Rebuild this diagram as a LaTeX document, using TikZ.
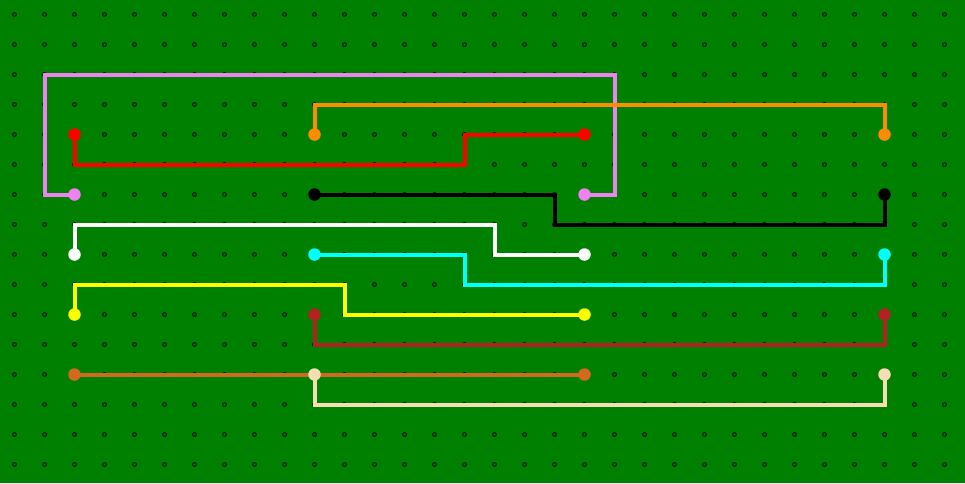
\documentclass[tikz,border=0pt]{standalone}
\usetikzlibrary{calc}
\definecolor{bg}{HTML}{008000}
\definecolor{wviolet}{HTML}{EE82EE}
\definecolor{worange}{HTML}{FF8C00}
\definecolor{wred}{HTML}{FF0000}
\definecolor{wcyan}{HTML}{00FFFF}
\definecolor{wyellow}{HTML}{FFFF00}
\definecolor{wbrown}{HTML}{B22222}
\definecolor{wchoc}{HTML}{D2691E}
\definecolor{wwheat}{HTML}{F5DEB3}
\definecolor{wwhite}{HTML}{FFFFFF}
\definecolor{wblack}{HTML}{000000}
\begin{document}
\begin{tikzpicture}[x=1pt,y=-1pt,
  wire/.style={line width=4pt},
  pin/.style={circle,inner sep=0pt,minimum size=12.5pt},
  griddot/.style={circle,inner sep=0pt,minimum size=4pt,draw=black!85!green,line width=1pt,fill=green!40!black}]
\useasboundingbox (0,0) rectangle (965,483);
\fill[bg] (0,0) rectangle (965,483);
% grid dots
\foreach \i in {0,...,31}{
  \foreach \j in {0,...,15}{
    \node[griddot] at ({14.5+30*\i},{14.5+30*\j}) {};
  }
}
% pin coordinates
\foreach \n/\i/\j in {
  va/2/6, vb/19/6,
  oa/10/4, ob/29/4,
  ra/2/4, rb/19/4,
  ka/10/6, kb/29/6,
  wa/2/8, wb/19/8,
  ca/10/8, cb/29/8,
  ya/2/10, yb/19/10,
  ba/10/10, bb/29/10,
  ha/2/12, hb/19/12,
  ta/10/12, tb/29/12}{
  \coordinate (\n) at ({14.5+30*\i},{14.5+30*\j});
}
\newcommand{\gx}[1]{{14.5+30*#1}}
% wires
\draw[wire,wviolet] (va) -- ++(-30,0) |- (\gx{20},\gx{2}) |- (vb);
\draw[wire,worange] (oa) |- (\gx{29},\gx{3}) -- (ob);
\draw[wire,wred] (ra) |- (\gx{15},\gx{5}) |- (rb);
\draw[wire,wblack] (ka) -| (\gx{18},\gx{7}) -| (kb);
\draw[wire,wwhite] (wa) |- (\gx{16},\gx{7}) |- (wb);
\draw[wire,wcyan] (ca) -| (\gx{15},\gx{9}) -| (cb);
\draw[wire,wyellow] (ya) |- (\gx{11},\gx{9}) |- (yb);
\draw[wire,wbrown] (ba) |- (\gx{29},\gx{11}) -- (bb);
\draw[wire,wchoc] (ha) -- (hb);
\draw[wire,wwheat] (ta) |- (\gx{29},\gx{13}) -- (tb);
% pins
\foreach \n/\c in {va/wviolet,vb/wviolet,oa/worange,ob/worange,ra/wred,rb/wred,
  ka/wblack,kb/wblack,wa/wwhite,wb/wwhite,ca/wcyan,cb/wcyan,ya/wyellow,yb/wyellow,
  ba/wbrown,bb/wbrown,ha/wchoc,hb/wchoc,ta/wwheat,tb/wwheat}{
  \node[pin,fill=\c] (p\n) at (\n) {};
}
\end{tikzpicture}
\end{document}
